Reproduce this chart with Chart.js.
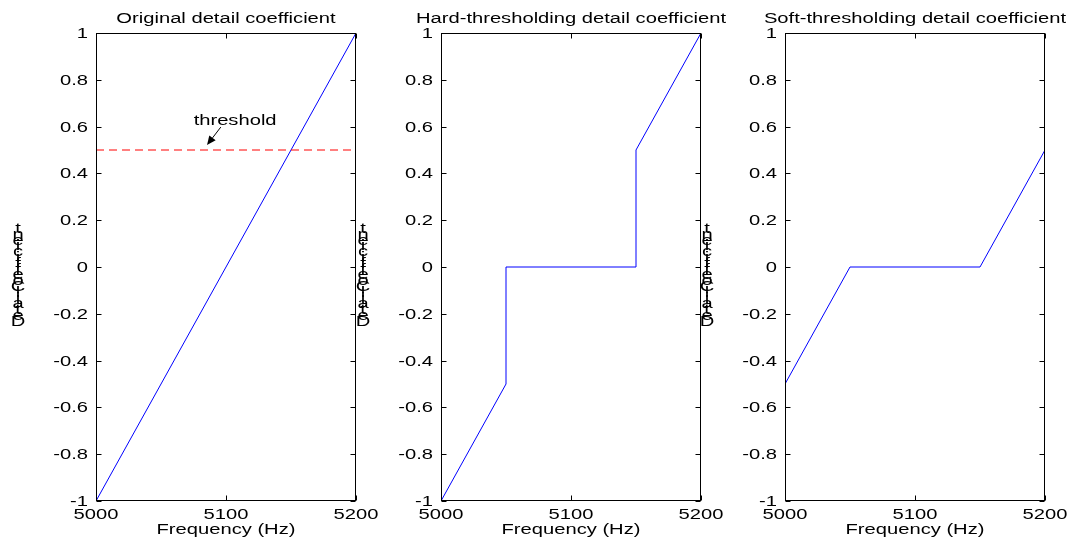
<!DOCTYPE html>
<html>
<head>
<meta charset="utf-8">
<script src="https://cdn.jsdelivr.net/npm/chart.js@4.4.1/dist/chart.umd.min.js"></script>
<style>
    html, body { margin: 0; padding: 0; background: #fff; overflow: hidden; }
    #wrap { position: relative; width: 1078px; height: 539px; }
    #wrap canvas { position: absolute; left: 0; top: 0; }
</style>
</head>
<body>
<div id="wrap">
    <canvas id="c0" width="1078" height="539"></canvas>
    <canvas id="c1" width="1078" height="539"></canvas>
    <canvas id="c2" width="1078" height="539"></canvas>
</div>
<script>
// --------- Data ---------
const X_TICKS = [5000, 5100, 5200];
const Y_TICKS = [-1, -0.8, -0.6, -0.4, -0.2, 0, 0.2, 0.4, 0.6, 0.8, 1];

const ORIG_X = [5000, 5200];
const ORIG_Y = [-1, 1];
const HARD_X = [5000, 5050, 5050, 5150, 5150, 5200];
const HARD_Y = [-1, -0.5, 0, 0, 0.5, 1];
const SOFT_X = [5000, 5050, 5150, 5200];
const SOFT_Y = [-0.5, 0, 0, 0.5];
const THRESH_X = [5000, 5200];
const THRESH_Y = [0.5, 0.5];

const TITLES = [
    "Original detail coefficient",
    "Hard-thresholding detail coefficient",
    "Soft-thresholding detail coefficient",
];
const X_LABEL = "Frequency (Hz)";
const Y_LABEL = "Detail Coefficient";
const THRESH_LABEL = "threshold";
// label / arrow in data coords (panel 1)
const THRESH_TEXT_AT = [5107, 0.607];
const ARROW_FROM = [5096, 0.598];
const ARROW_TO = [5085.4, 0.521];

// --------- Layout ---------
const W = 1078, H = 539;
const PANEL_LEFT = [96, 441, 785];
const PANEL_W = 260;
const TOP = 33, BOTTOM = 501;
const Y_AXIS_W = 40, X_AXIS_H = 20;
const FONT = "'Liberation Sans', Arial, sans-serif";
const FS = 14;
const SX = 1.44; // text in the picture is stretched sideways

const toXY = (xs, ys) => xs.map((x, i) => ({ x, y: ys[i] }));

function wideText(ctx, str, x, y, align) {
    const w = ctx.measureText(str).width * SX;
    const x0 = align === "center" ? x - w / 2 : align === "right" ? x - w : x;
    ctx.save();
    ctx.translate(x0, y);
    ctx.scale(SX, 1);
    ctx.textAlign = "left";
    ctx.fillText(str, 0, 0);
    ctx.restore();
}

// Box, inward ticks and texts drawn MATLAB style
const matlabAxes = {
    id: "matlabAxes",
    afterDraw(chart, args, opts) {
        const { ctx, chartArea: a, scales } = chart;
        const xs = scales.x, ys = scales.y;
        const L = Math.round(a.left) + 0.5, R = Math.round(a.right) - 0.5;
        const T = Math.round(a.top) + 0.5, B = Math.round(a.bottom) - 0.5;
        const tl = 5;
        ctx.save();
        ctx.strokeStyle = "#000";
        ctx.fillStyle = "#000";
        ctx.lineWidth = 1;
        ctx.strokeRect(L, T, R - L, B - T);
        ctx.beginPath();
        ys.ticks.forEach((t) => {
            const y = Math.round(ys.getPixelForValue(t.value)) + 0.5;
            ctx.moveTo(L, y); ctx.lineTo(L + tl, y);
            ctx.moveTo(R, y); ctx.lineTo(R - tl, y);
        });
        xs.ticks.forEach((t) => {
            const x = Math.round(xs.getPixelForValue(t.value)) + 0.5;
            ctx.moveTo(x, B); ctx.lineTo(x, B - tl);
            ctx.moveTo(x, T); ctx.lineTo(x, T + tl);
        });
        ctx.stroke();

        ctx.font = `${FS}px ${FONT}`;
        ctx.textBaseline = "alphabetic";

        // tick labels
        ys.ticks.forEach((t) => {
            wideText(ctx, String(t.value), a.left - 8, ys.getPixelForValue(t.value) + 5, "right");
        });
        xs.ticks.forEach((t) => {
            wideText(ctx, String(t.value), xs.getPixelForValue(t.value), 519, "center");
        });

        // title / xlabel
        const cx = (a.left + a.right) / 2;
        wideText(ctx, opts.title, cx, 23, "center");
        wideText(ctx, X_LABEL, cx, 534, "center");

        // stacked y label (characters upright, bottom to top)
        ctx.textBaseline = "middle";
        const chars = Y_LABEL.replace(/ /g, "").split("");
        const midY = (a.top + a.bottom) / 2;
        chars.forEach((ch, i) => {
            wideText(ctx, ch, a.left - 78, midY + 55 - i * 5.8, "center");
        });

        // threshold annotation
        if (opts.annotate) {
            ctx.textBaseline = "alphabetic";
            wideText(ctx, THRESH_LABEL, xs.getPixelForValue(THRESH_TEXT_AT[0]), ys.getPixelForValue(THRESH_TEXT_AT[1]), "center");
            const x1 = xs.getPixelForValue(ARROW_FROM[0]), y1 = ys.getPixelForValue(ARROW_FROM[1]);
            const x2 = xs.getPixelForValue(ARROW_TO[0]), y2 = ys.getPixelForValue(ARROW_TO[1]);
            const ang = Math.atan2(y2 - y1, x2 - x1);
            const hl = 9, hw = 4;
            const bx = x2 - hl * Math.cos(ang), by = y2 - hl * Math.sin(ang);
            ctx.beginPath();
            ctx.moveTo(x1, y1);
            ctx.lineTo(bx, by);
            ctx.stroke();
            ctx.beginPath();
            ctx.moveTo(x2, y2);
            ctx.lineTo(bx + hw * Math.sin(ang), by - hw * Math.cos(ang));
            ctx.lineTo(bx - hw * Math.sin(ang), by + hw * Math.cos(ang));
            ctx.closePath();
            ctx.fill();
        }
        ctx.restore();
    },
};

function lineSet(data, color, dash) {
    return {
        data,
        borderColor: color,
        borderWidth: 1,
        borderDash: dash || [],
        pointRadius: 0,
        tension: 0,
        fill: false,
    };
}

const PANELS = [
    [lineSet(toXY(THRESH_X, THRESH_Y), "#ff0000", [8, 5]), lineSet(toXY(ORIG_X, ORIG_Y), "#0000ff")],
    [lineSet(toXY(HARD_X, HARD_Y), "#0000ff")],
    [lineSet(toXY(SOFT_X, SOFT_Y), "#0000ff")],
];

PANELS.forEach((datasets, idx) => {
    const left = PANEL_LEFT[idx];
    new Chart(document.getElementById(`c${idx}`), {
        type: "line",
        data: { datasets },
        options: {
            responsive: false,
            animation: false,
            events: [],
            layout: {
                padding: {
                    left: left - Y_AXIS_W,
                    right: W - (left + PANEL_W),
                    top: TOP,
                    bottom: H - BOTTOM - X_AXIS_H,
                },
            },
            plugins: {
                legend: { display: false },
                tooltip: { enabled: false },
                matlabAxes: { title: TITLES[idx], annotate: idx === 0 },
            },
            scales: {
                x: {
                    type: "linear",
                    min: 5000,
                    max: 5200,
                    afterBuildTicks: (s) => { s.ticks = X_TICKS.map((value) => ({ value })); },
                    afterFit: (s) => { s.height = X_AXIS_H; },
                    grid: { display: false, drawTicks: false },
                    border: { display: false },
                    ticks: { display: false },
                },
                y: {
                    type: "linear",
                    min: -1,
                    max: 1,
                    afterBuildTicks: (s) => { s.ticks = Y_TICKS.map((value) => ({ value })); },
                    afterFit: (s) => { s.width = Y_AXIS_W; },
                    grid: { display: false, drawTicks: false },
                    border: { display: false },
                    ticks: { display: false },
                },
            },
        },
        plugins: [matlabAxes],
    });
});
</script>
</body>
</html>
